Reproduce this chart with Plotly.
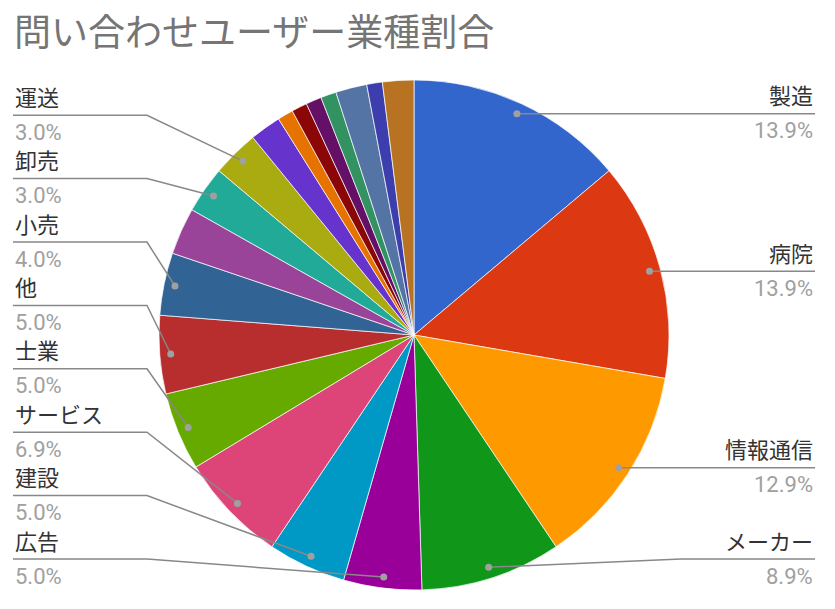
import numpy as np
import plotly.graph_objects as go

# data (counts, total 101)
categories = ["製造", "病院", "情報通信", "メーカー", "広告", "建設", "サービス", "士業", "他", "小売",
              "その他A", "卸売", "運送", "その他B", "その他C", "その他D", "その他E", "その他F",
              "その他G", "その他H", "その他I"]
counts = [14, 14, 13, 9, 5, 5, 7, 5, 5, 4, 3, 3, 3, 2, 1, 1, 1, 1, 2, 1, 2]
colors = ["#3366cc", "#dc3912", "#ff9900", "#109618", "#990099", "#0099c6", "#dd4477",
          "#66aa00", "#b82e2e", "#316395", "#994499", "#22aa99", "#aaaa11", "#6633cc",
          "#e67300", "#8b0707", "#651067", "#329262", "#5574a6", "#3b3eac", "#b77322"]
labeled = ["製造", "病院", "情報通信", "メーカー", "広告", "建設", "サービス", "士業", "他",
           "小売", "卸売", "運送"]
title = "問い合わせユーザー業種割合"

W, H = 835, 609
cx, cy, R = 414, 335, 255
dot_r = R - 11
FONT = "Roboto, Noto Sans CJK JP, sans-serif"


def px(x):
    return x / W


def py(y):
    return 1 - y / H


total = sum(counts)
cum = np.cumsum([0] + counts)
mid = (cum[:-1] + np.array(counts) / 2) / total * 2 * np.pi
dots = {c: (cx + dot_r * np.sin(a), cy - dot_r * np.cos(a)) for c, a in zip(categories, mid)}
pct = {c: f"{v / total * 100:.1f}%" for c, v in zip(categories, counts)}

fig = go.Figure(go.Pie(
    labels=categories, values=counts, sort=False, direction="clockwise", rotation=0,
    marker=dict(colors=colors, line=dict(color="white", width=0.7)),
    textinfo="none", showlegend=False,
    domain=dict(x=[px(cx - R), px(cx + R)], y=[py(cy + R), py(cy - R)]),
))

shapes, annotations = [], []
left = sorted([c for c in labeled if dots[c][0] < cx], key=lambda c: dots[c][1])
right = [c for c in labeled if dots[c][0] >= cx]


def add_label(c, x, ly, anchor):
    annotations.append(dict(x=px(x), y=py(ly - 17), xref="paper", yref="paper", text=c,
                            xanchor=anchor, yanchor="middle", showarrow=False,
                            font=dict(size=22, color="#333333", family=FONT)))
    annotations.append(dict(x=px(x), y=py(ly + 17), xref="paper", yref="paper", text=pct[c],
                            xanchor=anchor, yanchor="middle", showarrow=False,
                            font=dict(size=22, color="#a0a0a0", family=FONT)))


def add_dot(dx, dy):
    shapes.append(dict(type="circle", xref="paper", yref="paper",
                       x0=px(dx - 3.5), x1=px(dx + 3.5), y0=py(dy + 3.5), y1=py(dy - 3.5),
                       fillcolor="#a0a0a0", line=dict(width=0), layer="above"))


# left side: stacked slots
slot_bottom, slot_step = 559, 63.4
n = len(left)
for i, c in enumerate(left):
    ly = slot_bottom - (n - 1 - i) * slot_step
    dx, dy = dots[c]
    path = f"M {px(13)},{py(ly)} L {px(147)},{py(ly)} L {px(dx)},{py(dy)}"
    shapes.append(dict(type="path", path=path, xref="paper", yref="paper",
                       line=dict(color="#888888", width=1.5), layer="above"))
    add_dot(dx, dy)
    add_label(c, 13, ly, "left")

# right side: line at dot height, clamped at the bottom
for c in right:
    dx, dy = dots[c]
    ly = min(dy, 559)
    path = f"M {px(dx)},{py(dy)} L {px(681)},{py(ly)} L {px(815)},{py(ly)}"
    shapes.append(dict(type="path", path=path, xref="paper", yref="paper",
                       line=dict(color="#888888", width=1.5), layer="above"))
    add_dot(dx, dy)
    add_label(c, 815, ly, "right")

annotations.append(dict(x=px(12), y=py(33), xref="paper", yref="paper", text=title,
                        xanchor="left", yanchor="middle", showarrow=False,
                        font=dict(size=37, color="#757575", family=FONT)))

fig.update_layout(width=W, height=H, autosize=False,
                  margin=dict(l=0, r=0, t=0, b=0),
                  paper_bgcolor="white", plot_bgcolor="white",
                  shapes=shapes, annotations=annotations)

fig.write_html("out.html", config={"displayModeBar": False},
               post_script="document.body.style.margin='0';")
